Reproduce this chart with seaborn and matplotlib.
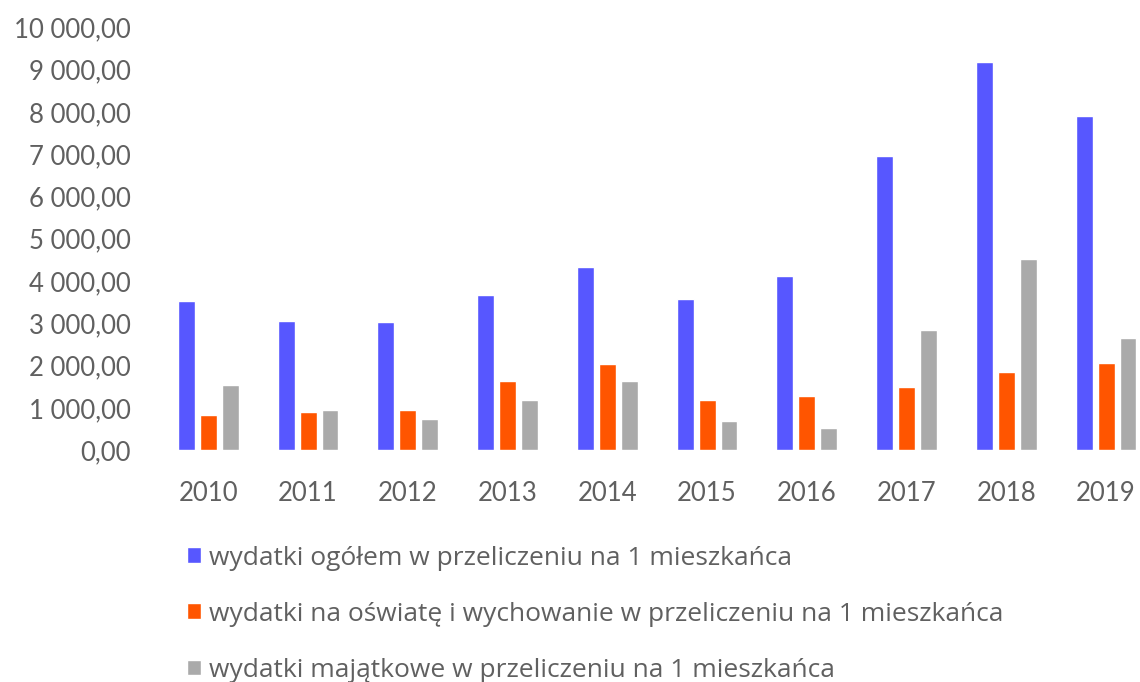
import numpy as np
import pandas as pd
import matplotlib
matplotlib.use("Agg")
import matplotlib.pyplot as plt
import seaborn as sns

years = ["2010", "2011", "2012", "2013", "2014", "2015", "2016", "2017", "2018", "2019"]
total = [3530, 3050, 3020, 3660, 4330, 3570, 4110, 6960, 9170, 7910]
education = [830, 890, 960, 1640, 2030, 1180, 1280, 1490, 1840, 2050]
capital = [1540, 950, 730, 1180, 1640, 690, 530, 2850, 4530, 2650]
series_names = [
    "wydatki ogółem w przeliczeniu na 1 mieszkańca",
    "wydatki na oświatę i wychowanie w przeliczeniu na 1 mieszkańca",
    "wydatki majątkowe w przeliczeniu na 1 mieszkańca",
]
colors = ["#5757FF", "#FF5500", "#AAAAAA"]
y_ticks = [0, 1000, 2000, 3000, 4000, 5000, 6000, 7000, 8000, 9000, 10000]

df = pd.DataFrame({
    "rok": years * 3,
    "seria": [series_names[0]] * 10 + [series_names[1]] * 10 + [series_names[2]] * 10,
    "wartosc": total + education + capital,
})

sns.set_theme(style="white")
plt.rcParams["font.family"] = ["Lato", "DejaVu Sans"]
text_color = "#606060"

fig = plt.figure(figsize=(11.4, 6.82), dpi=100)
ax = fig.add_axes([0.139, 0.340, 0.875, 0.620])

sns.barplot(data=df, x="rok", y="wartosc", hue="seria", hue_order=series_names,
            palette=colors, width=0.66, gap=0.23, ax=ax, saturation=1,
            errorbar=None)

handles, labels = ax.get_legend_handles_labels()
ax.get_legend().remove()

ax.set_xlim(-0.5, 9.5)
ax.set_ylim(0, 10000)
ax.set_yticks(y_ticks)
ax.set_yticklabels([f"{v:,.2f}".replace(",", " ").replace(".", ",") for v in y_ticks])
ax.set_xlabel("")
ax.set_ylabel("")
for s in ax.spines.values():
    s.set_visible(False)
ax.tick_params(axis="y", length=0, pad=20, labelsize=18.5, labelcolor=text_color)
ax.tick_params(axis="x", length=0, pad=22, labelsize=18.5, labelcolor=text_color)

fig.legend(handles, labels, loc="upper left", bbox_to_anchor=(0.164, 0.200),
           frameon=False, prop={"family": ["Open Sans", "DejaVu Sans"], "size": 19},
           labelcolor=text_color,
           handlelength=0.55, handleheight=0.55, handletextpad=0.3,
           labelspacing=1.18, borderpad=0, borderaxespad=0)

fig.savefig("out.png", dpi=100)
